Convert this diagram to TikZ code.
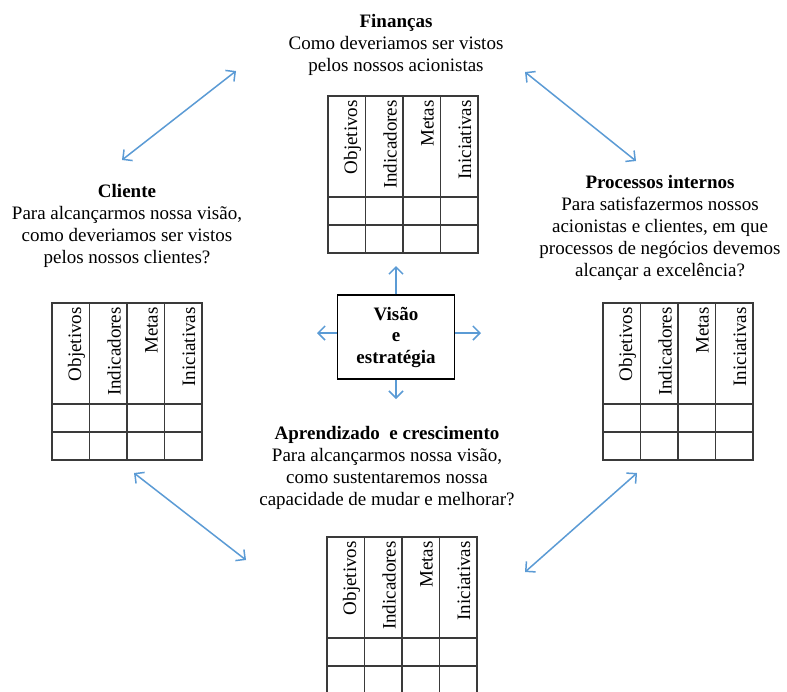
\documentclass[tikz,border=0pt]{standalone}
\usepackage{fontspec}
\setmainfont{Liberation Serif}
\usetikzlibrary{arrows.meta}
\definecolor{arrowblue}{HTML}{5B9BD5}
\definecolor{gridgray}{HTML}{3A3A3A}
\tikzset{
  txt/.style={inner sep=0pt, align=center, font=\fontsize{19}{22}\selectfont},
  hdr/.style={inner sep=0pt, rotate=90, anchor=east, font=\fontsize{19}{22}\selectfont},
  tablegrid/.style={draw=gridgray, line width=1.4pt},
  visbox/.style={draw=black, line width=1.5pt, minimum width=117pt, minimum height=84pt, inner sep=0pt, align=center, font=\fontsize{19}{21.5}\selectfont\bfseries},
  barb/.tip={Straight Barb[length=7pt,width=14pt,line width=1.5pt]},
  dblarrow/.style={draw=arrowblue, line width=1.5pt, barb-barb},
  onearrow/.style={draw=arrowblue, line width=1.5pt, -barb},
}
\newcommand{\bsctable}[3]{%
  \begin{scope}[shift={(#2,#3)}]
    \draw[tablegrid] (0,0) rectangle (150,#1);
    \foreach \cx in {37.5,75,112.5} \draw[tablegrid] (\cx,0) -- (\cx,#1);
    \draw[tablegrid] (0,101) -- (150,101);
    \draw[tablegrid] (0,129) -- (150,129);
    \node[hdr] at (24.5,4) {Objetivos};
    \node[hdr] at (62,4) {Indicadores};
    \node[hdr] at (99.5,4) {Metas};
    \node[hdr] at (137,4) {Iniciativas};
  \end{scope}}
\begin{document}
\begin{tikzpicture}[x=1pt,y=-1pt]
  \useasboundingbox (0,0) rectangle (787,691);
  \fill[white] (0,0) rectangle (787,691);

  % tables
  \bsctable{157}{328}{96}
  \bsctable{157}{52}{303}
  \bsctable{157}{603}{303}
  \bsctable{160}{327}{537}

  % text blocks
  \node[txt, anchor=north] (fin) at (396,14)
    {\textbf{Finanças}\\Como deveriamos ser vistos\\pelos nossos acionistas};
  \node[txt, anchor=north] (cli) at (127,184)
    {\textbf{Cliente}\\Para alcançarmos nossa visão,\\como deveriamos ser vistos\\pelos nossos clientes?};
  \node[txt, anchor=north] (pro) at (660,175)
    {\textbf{Processos internos}\\Para satisfazermos nossos\\acionistas e clientes, em que\\processos de negócios devemos\\alcançar a excelência?};
  \node[txt, anchor=north] (apr) at (387,426)
    {\textbf{Aprendizado~ e crescimento}\\Para alcançarmos nossa visão,\\como sustentaremos nossa\\capacidade de mudar e melhorar?};

  % centre box
  \node[visbox] (vis) at (396,337) {Visão\\e\\estratégia};

  \coordinate (up) at (396,266);
  \coordinate (dn) at (396,399);
  \coordinate (lf) at (317,333);
  \coordinate (rt) at (481,333);
  \draw[onearrow] (vis.north) -- (up);
  \draw[onearrow] (vis.south) -- (dn);
  \draw[onearrow] (vis.west |- lf) -- (lf);
  \draw[onearrow] (vis.east |- rt) -- (rt);

  % diagonal double arrows
  \coordinate (tl1) at (122,160);
  \coordinate (tl2) at (236,71);
  \coordinate (tr1) at (525,72);
  \coordinate (tr2) at (636,161);
  \coordinate (bl1) at (134,473);
  \coordinate (bl2) at (246,560);
  \coordinate (br1) at (637,473);
  \coordinate (br2) at (525,572);
  \draw[dblarrow] (tl1) -- (tl2);
  \draw[dblarrow] (tr1) -- (tr2);
  \draw[dblarrow] (bl1) -- (bl2);
  \draw[dblarrow] (br1) -- (br2);
\end{tikzpicture}
\end{document}
